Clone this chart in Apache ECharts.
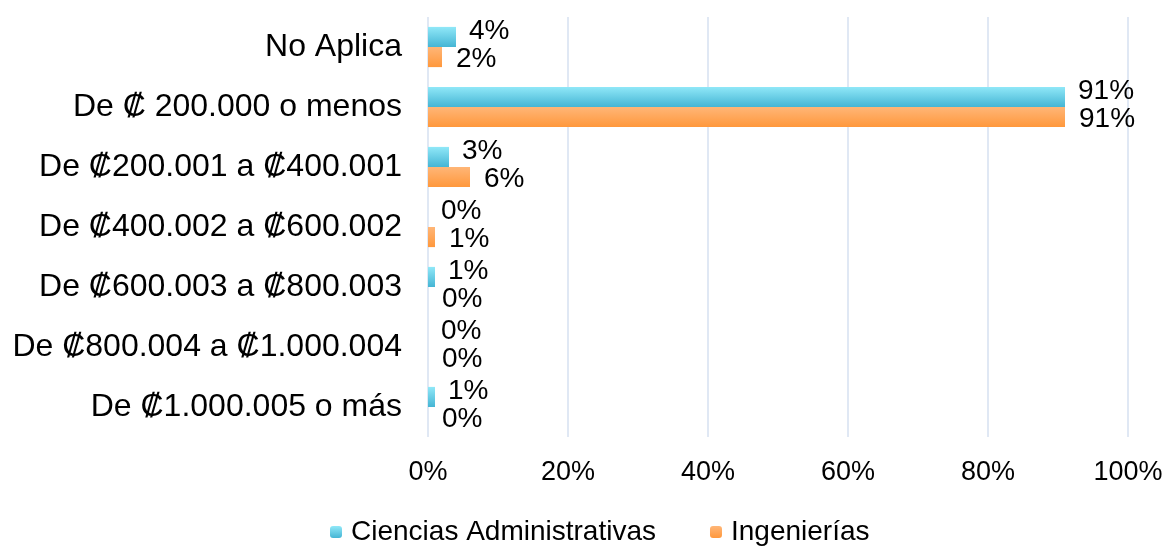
<!DOCTYPE html>
<html>
<head>
<meta charset="utf-8">
<script src="https://cdn.jsdelivr.net/npm/echarts@6/dist/echarts.min.js"></script>
<style>
  html, body { margin: 0; padding: 0; background: #fff; }
  #main { width: 1170px; height: 547px; }
</style>
</head>
<body>
<div id="main"></div>
<script>
var categories = [
  'No Aplica',
  'De ₡ 200.000 o menos',
  'De ₡200.001 a ₡400.001',
  'De ₡400.002 a ₡600.002',
  'De ₡600.003 a ₡800.003',
  'De ₡800.004 a ₡1.000.004',
  'De ₡1.000.005 o más'
];
var ciencias = [0.04, 0.91, 0.03, 0, 0.01, 0, 0.01];
var ingenierias = [0.02, 0.91, 0.06, 0.01, 0, 0, 0];
var xTicks = [0, 0.2, 0.4, 0.6, 0.8, 1];

var font = 'Liberation Sans, Arial, sans-serif';

function grad(top, bottom) {
  return new echarts.graphic.LinearGradient(0, 0, 0, 1, [
    { offset: 0, color: top },
    { offset: 1, color: bottom }
  ]);
}

function pct(v) {
  return Math.round(v * 100) + '%';
}

var chart = echarts.init(document.getElementById('main'));
var option = {
  animation: false,
  textStyle: { fontFamily: font },
  grid: { left: 428, right: 42, top: 17, bottom: 110 },
  legend: {
    bottom: -4,
    left: 325,
    itemWidth: 12,
    itemHeight: 12,
    itemGap: 54,
    textStyle: { fontSize: 28, color: '#000', fontFamily: font, padding: [0, 0, 0, 4] },
    data: ['Ciencias Administrativas', 'Ingenierías']
  },
  xAxis: {
    type: 'value',
    min: xTicks[0],
    max: xTicks[xTicks.length - 1],
    interval: 0.2,
    axisLine: { show: false },
    axisTick: { show: false },
    axisLabel: {
      fontSize: 27,
      color: '#000',
      margin: 22,
      formatter: pct
    },
    splitLine: { lineStyle: { color: '#d6e0f0', width: 1.5 } }
  },
  yAxis: {
    type: 'category',
    inverse: true,
    data: categories,
    axisLine: { show: false },
    axisTick: { show: false },
    axisLabel: { fontSize: 32, color: '#000', margin: 26 }
  },
  series: [
    {
      name: 'Ciencias Administrativas',
      type: 'bar',
      data: ciencias,
      barGap: '0%',
      barCategoryGap: '33%',
      itemStyle: { color: grad('#90e8f8', '#45b5d4') },
      label: {
        show: true,
        position: 'right',
        distance: 13,
        offset: [0, -6],
        fontSize: 28,
        color: '#000',
        formatter: function (p) { return pct(p.value); }
      }
    },
    {
      name: 'Ingenierías',
      type: 'bar',
      data: ingenierias,
      itemStyle: { color: grad('#ffb677', '#ff983c') },
      label: {
        show: true,
        position: 'right',
        distance: 14,
        offset: [0, 2],
        fontSize: 28,
        color: '#000',
        formatter: function (p) { return pct(p.value); }
      }
    }
  ]
};
chart.setOption(option);
</script>
</body>
</html>
